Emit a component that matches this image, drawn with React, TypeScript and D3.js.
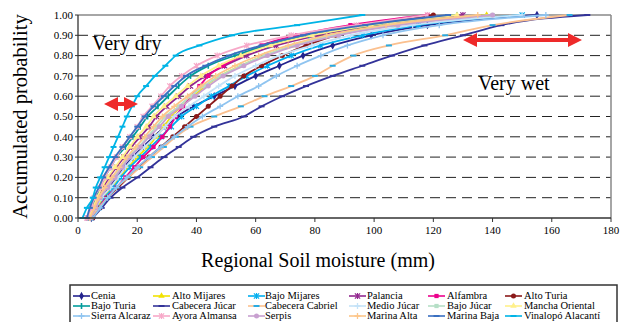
import React from "react";
import * as d3 from "d3";

const probs = [0, 0.05, 0.1, 0.15, 0.2, 0.25, 0.3, 0.35, 0.4, 0.45, 0.5, 0.55, 0.6, 0.65, 0.7, 0.75, 0.8, 0.85, 0.9, 0.95, 1.0];

const cenia = [4.5, 6, 8, 10.5, 13, 15.5, 18.5, 22, 25.5, 29.5, 33.5, 39, 46, 53, 60, 68, 76, 86, 99, 118, 155];
const altoMijares = [4.5, 6.5, 8.5, 11.5, 14, 17, 20, 23.5, 26.5, 29, 31.5, 35, 39, 43, 48, 55, 63, 73, 87, 107, 138];
const bajoMijares = [4.5, 7, 9, 12, 14.5, 17.5, 21, 24.5, 28, 31.5, 35, 40, 45, 51, 57, 64, 72, 82, 96, 115, 150];
const palancia = [3.5, 5, 6.5, 8.5, 10.5, 13, 15.5, 18, 21, 24, 26.5, 30, 34, 38, 43, 49.5, 57, 67, 81, 101, 130];
const alfambra = [5, 7, 9.5, 13, 16, 19, 22, 25.5, 28.5, 31, 33, 35.5, 38, 41, 44, 49, 55, 62, 74, 92, 118];
const altoTuria = [5, 7.5, 10, 13.5, 17, 20.5, 24, 28, 32, 36, 40, 44, 48, 52, 56, 62, 69, 77, 87, 100, 120];
const bajoTuria = [3.5, 4.5, 6, 7.5, 9, 11, 13, 16, 18.5, 21, 23.5, 27, 30.5, 34, 38, 44, 53, 64, 78, 100, 128];
const cabeceraJucar = [5, 8, 11, 15, 20, 24.5, 29, 34, 39, 46, 56, 62, 69, 77, 86, 96, 106, 117, 130, 143, 172];
const cabeceraCabriel = [4, 7, 10, 13, 17, 21, 25, 29, 33, 38, 46, 55, 63, 72, 80, 86, 93, 105, 124, 140, 166];
const medioJucar = [4, 6, 8, 11, 13.5, 16, 19, 22.5, 26, 29.5, 32.5, 37.5, 42.5, 47.5, 53, 60, 68, 79, 92, 113, 150];
const bajoJucar = [4, 5.5, 7.5, 9.5, 12, 14.5, 17, 20.5, 23.5, 26.5, 29.5, 34, 38, 42.5, 48, 55, 63, 73, 86, 106, 140];
const manchaOriental = [3.5, 5, 6.5, 8, 10, 12.5, 15, 17.5, 20, 23, 25.5, 29, 33, 37, 41.5, 47.5, 55, 65, 79, 99, 128];
const sierraAlcaraz = [5, 7.5, 10, 13, 16.5, 20, 24, 28, 32.5, 37, 42, 48, 54, 61, 67, 74, 82, 91, 103, 122, 158];
const ayoraAlmansa = [3, 4.5, 5.5, 7.5, 9, 11, 13, 15, 17.5, 20, 22, 25, 28, 31, 35, 40, 47, 57, 72, 94, 118];
const serpis = [4, 6, 7.5, 10, 12.5, 15, 17.5, 21, 24, 27.5, 30.5, 35, 39.5, 44, 49, 56, 64, 74, 88, 108, 140];
const marinaAlta = [4, 5.5, 7, 9, 11.5, 14, 16.5, 19.5, 22.5, 25.5, 28.5, 32.5, 37, 41.5, 46.5, 53, 61, 71, 84, 104, 135];
const marinaBaja = [3, 4, 5.3, 7, 8.5, 10.5, 12.5, 15, 17.5, 20, 22.5, 25.5, 29, 32.5, 36.5, 43, 51, 62, 76, 97, 125];
const vinalopo = [1.5, 3, 5, 6, 7.5, 9, 10.5, 12, 13.5, 15, 16.5, 18.2, 20, 23, 26, 29.5, 33, 41, 52, 74, 96];

const seriesNames = [
  "Cenia", "Alto Mijares", "Bajo Mijares", "Palancia", "Alfambra", "Alto Turia",
  "Bajo Turia", "Cabecera Júcar", "Cabecera Cabriel", "Medio Júcar", "Bajo Júcar", "Mancha Oriental",
  "Sierra Alcaraz", "Ayora Almansa", "Serpis", "Marina Alta", "Marina Baja", "Vinalopó Alacantí",
];
const seriesValues = [
  cenia, altoMijares, bajoMijares, palancia, alfambra, altoTuria,
  bajoTuria, cabeceraJucar, cabeceraCabriel, medioJucar, bajoJucar, manchaOriental,
  sierraAlcaraz, ayoraAlmansa, serpis, marinaAlta, marinaBaja, vinalopo,
];
const lineColors = [
  "#23238e", "#f2e200", "#00aeef", "#92278f", "#ec008c", "#8b1a1a",
  "#009b9b", "#333399", "#fbc08f", "#c4e2f8", "#b5dfc6", "#fff08a",
  "#8fc4f0", "#f7a8c8", "#c8a0d0", "#fdc68a", "#3a6fc0", "#00b4e6",
];
const markerColors = [
  "#23238e", "#f2e200", "#00aeef", "#92278f", "#ec008c", "#8b1a1a",
  "#009b9b", "#333399", "#29abe2", "#c4e2f8", "#b5dfc6", "#fff08a",
  "#8fc4f0", "#f7a8c8", "#c8a0d0", "#fdc68a", "#3a6fc0", "#00b4e6",
];
const markerTypes = [
  "diamond", "triangle", "asterisk", "asterisk", "square", "circle",
  "bar", "dash", "dash", "plus", "square", "triangle",
  "plus", "asterisk", "circle", "plus", "dash", "dash",
];

const xTicks = [0, 20, 40, 60, 80, 100, 120, 140, 160, 180];
const yTicks = [0, 0.1, 0.2, 0.3, 0.4, 0.5, 0.6, 0.7, 0.8, 0.9, 1.0];

const FONT = "Liberation Serif, DejaVu Serif, Noto Serif, serif";

function Marker({ type, color, x, y }: { type: string; color: string; x: number; y: number }) {
  const t = `translate(${x},${y})`;
  if (type === "diamond") return <path transform={t} d={d3.symbol(d3.symbolDiamond, 20)() || ""} fill={color} />;
  if (type === "triangle") return <path transform={t} d={d3.symbol(d3.symbolTriangle, 18)() || ""} fill={color} />;
  if (type === "square") return <path transform={t} d={d3.symbol(d3.symbolSquare, 18)() || ""} fill={color} />;
  if (type === "circle") return <path transform={t} d={d3.symbol(d3.symbolCircle, 20)() || ""} fill={color} />;
  if (type === "plus") return <path transform={t} d="M-3,0H3M0,-3V3" stroke={color} strokeWidth={1.3} fill="none" />;
  if (type === "asterisk") return <path transform={t} d="M-2.6,-2.6L2.6,2.6M-2.6,2.6L2.6,-2.6M0,-3V3" stroke={color} strokeWidth={1.2} fill="none" />;
  if (type === "bar") return <path transform={t} d="M0,-3V3" stroke={color} strokeWidth={1.6} fill="none" />;
  if (type === "dash") return <path transform={t} d="M-3,0H3" stroke={color} strokeWidth={2} fill="none" />;
  return null;
}

function Arrow({ x1, x2, y }: { x1: number; x2: number; y: number }) {
  const h = 14;
  const hw = 7;
  return (
    <g fill="#ee2a2a" stroke="none">
      <rect x={x1 + h - 1} y={y - 2} width={x2 - x1 - 2 * h + 2} height={4} />
      <path d={`M${x1},${y}L${x1 + h},${y - hw}L${x1 + h},${y + hw}Z`} />
      <path d={`M${x2},${y}L${x2 - h},${y - hw}L${x2 - h},${y + hw}Z`} />
    </g>
  );
}

export default function App() {
  const x0 = 78, x1 = 611, yTop = 15, yBot = 218;
  const xs = d3.scaleLinear().domain([0, 180]).range([x0, x1]);
  const ys = d3.scaleLinear().domain([0, 1]).range([yBot, yTop]);
  const line = d3
    .line<[number, number]>()
    .x((d) => xs(d[0]))
    .y((d) => ys(d[1]))
    .curve(d3.curveMonotoneX);

  const legendCols = [
    { lx: 73, tx: 91 },
    { lx: 153, tx: 172 },
    { lx: 248, tx: 265 },
    { lx: 349, tx: 367 },
    { lx: 428, tx: 447 },
    { lx: 505, tx: 524 },
  ];
  const legendRows = [296, 306, 316];

  return (
    <svg width={620} height={322} fontFamily={FONT} style={{ position: "absolute", left: 0, top: 0, background: "#fff" }}>
      <rect x={0} y={0} width={620} height={322} fill="#fff" />
      {yTicks.filter((t) => t > 0 && t < 1).map((t) => (
        <line key={t} x1={x0} x2={x1} y1={ys(t)} y2={ys(t)} stroke="#222" strokeWidth={1} strokeDasharray="10,6" />
      ))}
      <line x1={x0} x2={x1} y1={yTop} y2={yTop} stroke="#888" strokeWidth={1.5} />
      <line x1={x1} x2={x1} y1={yTop} y2={yBot} stroke="#888" strokeWidth={1.5} />
      {seriesValues.map((vals, i) => {
        const pts: [number, number][] = vals.map((v, j) => [v, probs[j]]);
        return (
          <g key={seriesNames[i]}>
            <path d={line(pts) || ""} fill="none" stroke={lineColors[i]} strokeWidth={1.8} />
            {pts.map((p, j) => (
              <Marker key={j} type={markerTypes[i]} color={markerColors[i]} x={xs(p[0])} y={ys(p[1])} />
            ))}
          </g>
        );
      })}
      <line x1={x0} x2={x0} y1={yTop} y2={yBot} stroke="#333" strokeWidth={1.3} />
      <line x1={x0} x2={x1} y1={yBot} y2={yBot} stroke="#333" strokeWidth={1.3} />
      {yTicks.map((t) => (
        <g key={t}>
          <line x1={x0 - 3} x2={x0} y1={ys(t)} y2={ys(t)} stroke="#333" />
          <text fontFamily={FONT} x={x0 - 5} y={ys(t)} dy="0.35em" textAnchor="end" fontSize={11} fill="#000">
            {d3.format(".2f")(t)}
          </text>
        </g>
      ))}
      {xTicks.map((t) => (
        <g key={t}>
          <line x1={xs(t)} x2={xs(t)} y1={yBot} y2={yBot + 4} stroke="#333" />
          <text fontFamily={FONT} x={xs(t)} y={yBot + 16} textAnchor="middle" fontSize={11} fill="#000">
            {t}
          </text>
        </g>
      ))}
      <text fontFamily={FONT} transform={`translate(27,${(yTop + yBot) / 2}) rotate(-90)`} textAnchor="middle" fontSize={20.5} fill="#000">
        Accumulated probability
      </text>
      <text fontFamily={FONT} x={318} y={267} textAnchor="middle" fontSize={20} fill="#000">
        Regional Soil moisture (mm)
      </text>
      <text fontFamily={FONT} x={92} y={50} fontSize={20} fill="#000">Very dry</text>
      <text fontFamily={FONT} x={478} y={90} fontSize={20} fill="#000">Very wet</text>
      <Arrow x1={104} x2={138} y={104} />
      <Arrow x1={463} x2={582} y={40} />
      <rect x={70} y={285} width={547} height={45} fill="#fff" stroke="#333" strokeWidth={1.5} />
      {seriesNames.map((name, i) => {
        const c = legendCols[i % 6];
        const ry = legendRows[Math.floor(i / 6)];
        return (
          <g key={name}>
            <line x1={c.lx} x2={c.lx + 17} y1={ry} y2={ry} stroke={lineColors[i]} strokeWidth={1.6} />
            <Marker type={markerTypes[i]} color={markerColors[i]} x={c.lx + 8.5} y={ry} />
            <text fontFamily={FONT} x={c.tx} y={ry} dy="0.33em" fontSize={10.5} fill="#000">
              {name}
            </text>
          </g>
        );
      })}
    </svg>
  );
}
